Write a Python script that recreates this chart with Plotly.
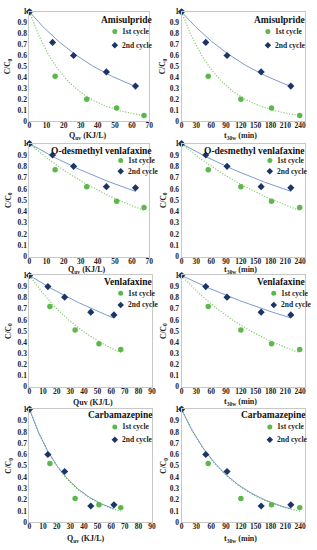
import numpy as np
import plotly.graph_objects as go

# ---------------- data ----------------
compounds = ["Amisulpride", "O-desmethyl venlafaxine", "Venlafaxine", "Carbamazepine"]

q_c1 = [0, 15, 33.5, 51, 67]
q_c2 = [0, 13.5, 25.8, 45, 62]
t_c1 = [0, 54, 120, 182, 239]
t_c2 = [0, 49, 92, 161, 221]

ami_c1 = [1, 0.41, 0.20, 0.12, 0.05]
ami_c2 = [1, 0.72, 0.60, 0.45, 0.32]
odv_c1 = [1, 0.77, 0.62, 0.49, 0.435]
odv_c2 = [1, 0.90, 0.80, 0.62, 0.61]
ven_c1 = [1, 0.72, 0.51, 0.385, 0.335]
ven_c2 = [1, 0.90, 0.805, 0.67, 0.645]
cbz_c1 = [1, 0.52, 0.21, 0.155, 0.13]
cbz_c2 = [1, 0.60, 0.45, 0.145, 0.155]

series_c1 = [ami_c1, odv_c1, ven_c1, cbz_c1]
series_c2 = [ami_c2, odv_c2, ven_c2, cbz_c2]

y_ticks = [0, 0.1, 0.2, 0.3, 0.4, 0.5, 0.6, 0.7, 0.8, 0.9, 1]
y_tick_labels = ["0", "0.1", "0.2", "0.3", "0.4", "0.5", "0.6", "0.7", "0.8", "0.9", "1"]
q_max = [70, 70, 90, 90]
t_ticks = [0, 30, 60, 90, 120, 150, 180, 210, 240]
q_titles = ["Q<sub>uv</sub> (KJ/L)", "Q<sub>uv</sub> (KJ/L)", "Quv (KJ/L)", "Q<sub>uv</sub> (KJ/L)"]
t_title = "t<sub>30w</sub> (min)"
y_title = "C/C<sub>0</sub>"
legend_labels = ["1st cycle", "2nd cycle"]

# ---------------- style ----------------
W, H = 317, 550
GREEN = "#5cb84a"
NAVY = "#1c3566"
GREEN_LINE = "#86cc72"
BLUE_LINE = "#5b82c2"
SERIF = "Liberation Serif"

row_px = [(8, 119), (142, 257), (276, 389), (412, 527)]
left_px = [(28, 150), (28, 150), (28, 153), (28, 153)]
right_px = (183, 309)
title_y = [16, 149, 283, 418]
leg1_y = [28, 159, 294, 430]
leg2_y = [42, 170, 306, 443]
xtitle_y = [134, 270, 405, 544]
xtitle_cx_left = [88, 87, 93, 86]
xtitle_cx_right = 243

def px(xp):
    return xp / W

def py(yp):
    return 1 - yp / H

def exp_fit(x, y):
    x = np.asarray(x, float)[1:]
    ly = np.log(np.asarray(y, float)[1:])
    return float(np.sum(x * ly) / np.sum(x * x))

fig = go.Figure()
layout = {}
annotations = []
k = 0
for r in range(4):
    for c in range(2):
        k += 1
        xa = "x" if k == 1 else f"x{k}"
        ya = "y" if k == 1 else f"y{k}"
        top, bot = row_px[r]
        if c == 0:
            x0, x1 = left_px[r]
            xs1, xs2 = q_c1, q_c2
            xrange = [0, q_max[r]]
            tickvals = list(range(0, q_max[r] + 1, 10))
            xtitle = q_titles[r]
            xcx = xtitle_cx_left[r]
        else:
            x0, x1 = right_px
            xs1, xs2 = t_c1, t_c2
            xrange = [0, 250]
            tickvals = t_ticks
            xtitle = t_title
            xcx = xtitle_cx_right
        ys1 = series_c1[r]
        ys2 = series_c2[r]
        # trendlines (exponential, intercept fixed at 1) computed from data
        for xs, ys, col, dash, w in [(xs1, ys1, GREEN_LINE, "1.2px,1.6px", 1.2),
                                     (xs2, ys2, BLUE_LINE, "solid", 0.8)]:
            b = exp_fit(xs, ys)
            xx = np.linspace(0, max(xs), 80)
            fig.add_trace(go.Scatter(x=xx, y=np.exp(b * xx), mode="lines",
                                     line=dict(color=col, width=w, dash=dash),
                                     xaxis=xa, yaxis=ya, showlegend=False, hoverinfo="skip"))
        fig.add_trace(go.Scatter(x=xs1, y=ys1, mode="markers",
                                 marker=dict(color=GREEN, size=5.5, symbol="circle"),
                                 xaxis=xa, yaxis=ya, showlegend=False, cliponaxis=False))
        fig.add_trace(go.Scatter(x=xs2, y=ys2, mode="markers",
                                 marker=dict(color=NAVY, size=5.5, symbol="diamond"),
                                 xaxis=xa, yaxis=ya, showlegend=False, cliponaxis=False))
        axfont = dict(family=SERIF, size=7.5, color="#222", weight="bold")
        layout["xaxis" if k == 1 else f"xaxis{k}"] = dict(
            domain=[px(x0), px(x1)], anchor=ya, range=xrange, tickvals=tickvals,
            showgrid=False, zeroline=False, showline=True, linecolor="#c8c8c8", linewidth=1,
            mirror=True, ticks="", tickfont=axfont, ticklabelstandoff=-3,
        )
        layout["yaxis" if k == 1 else f"yaxis{k}"] = dict(
            domain=[py(bot), py(top)], anchor=xa, range=[0, 1], tickvals=y_ticks,
            ticktext=y_tick_labels, showgrid=False, zeroline=False, showline=True,
            linecolor="#c8c8c8", linewidth=1, mirror=True, ticks="", tickfont=axfont,
        )
        # axis titles
        annotations.append(dict(text=f"<b>{xtitle}</b>", xref="paper", yref="paper",
                                x=px(xcx), y=py(xtitle_y[r]), xanchor="center", yanchor="middle",
                                showarrow=False, font=dict(family=SERIF, size=8, color="#222")))
        annotations.append(dict(text=f"<b>{y_title}</b>", xref="paper", yref="paper",
                                x=px(7 if c == 0 else 165), y=py((top + bot) / 2),
                                xanchor="center", yanchor="middle", textangle=-90,
                                showarrow=False, font=dict(family=SERIF, size=7.5, color="#222")))

for r in range(4):
    for c in range(2):
        right_edge = 155 if c == 0 else 311
        annotations.append(dict(text=f"<b>{compounds[r]}</b>", xref="paper", yref="paper",
                                x=px(right_edge), y=py(title_y[r]), xanchor="right", yanchor="middle",
                                showarrow=False, font=dict(family=SERIF, size=9.5, color="#111")))
        if r == 0:
            mx = 115 if c == 0 else 271
        elif r == 1:
            mx = 121 if c == 0 else 273
        elif r == 2:
            mx = 121 if c == 0 else 277
        else:
            mx = 115 if c == 0 else 273
        for j, (ly, col, sym) in enumerate([(leg1_y[r], GREEN, "circle"), (leg2_y[r], NAVY, "diamond")]):
            annotations.append(dict(text=f"<b>{legend_labels[j]}</b>", xref="paper", yref="paper",
                                    x=px(mx + 5), y=py(ly), xanchor="left", yanchor="middle",
                                    showarrow=False, font=dict(family=SERIF, size=7.5, color="#222")))
            fig.add_trace(go.Scatter(x=[px(mx)], y=[py(ly)], mode="markers",
                                     marker=dict(color=col, size=5, symbol=sym),
                                     xaxis="x9", yaxis="y9", showlegend=False, hoverinfo="skip"))

layout["xaxis9"] = dict(domain=[0, 1], range=[0, 1], visible=False, anchor="y9")
layout["yaxis9"] = dict(domain=[0, 1], range=[0, 1], visible=False, anchor="x9")

fig.update_layout(width=W, height=H, margin=dict(l=0, r=0, t=0, b=0),
                  paper_bgcolor="white", plot_bgcolor="rgba(0,0,0,0)",
                  annotations=annotations, showlegend=False, **layout)
fig.write_html("out.html", config={"displayModeBar": False},
               post_script="document.body.style.margin='0';document.body.style.padding='0';")
